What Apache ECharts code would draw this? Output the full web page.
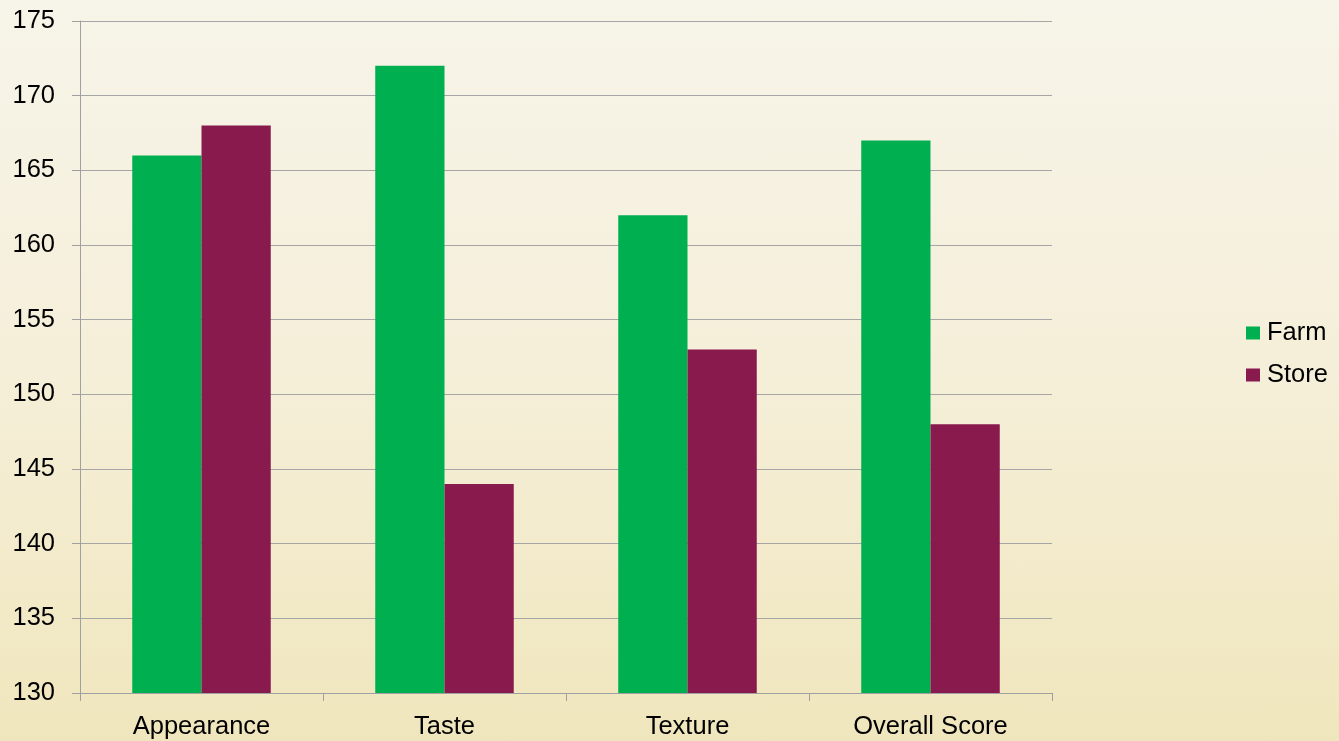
<!DOCTYPE html>
<html><head><meta charset="utf-8">
<script src="https://cdn.jsdelivr.net/npm/echarts@6/dist/echarts.min.js"></script>
<style>html,body{margin:0;padding:0;}#c{width:1339px;height:741px;background:linear-gradient(to bottom,#f7f4e9 0%,#f5efd9 50%,#f0e6bd 100%);}</style>
</head><body><div id="c"></div>
<script>
const categories = ['Appearance', 'Taste', 'Texture', 'Overall Score'];
const farm = [166, 172, 162, 167];
const store = [168, 144, 153, 148];
const yTicks = [130, 135, 140, 145, 150, 155, 160, 165, 170, 175];

const chart = echarts.init(document.getElementById('c'), null, {renderer: 'canvas'});
const font = 'Liberation Sans, Arial, sans-serif';
chart.setOption({
  backgroundColor: 'transparent',
  animation: false,
  grid: {left: 80, right: 287, top: 21, bottom: 48, containLabel: false},
  legend: {
    orient: 'vertical', left: 1241, top: 315, itemWidth: 14, itemHeight: 13, itemGap: 16,
    icon: 'rect',
    textStyle: {fontFamily: font, fontSize: 25.5, color: '#000', padding: [0, 0, 0, 2]},
    data: ['Farm', 'Store']
  },
  xAxis: {
    type: 'category', data: categories,
    axisLine: {lineStyle: {color: '#a0a0a0', width: 1}},
    axisTick: {show: true, length: 8, lineStyle: {color: '#a0a0a0'}},
    axisLabel: {fontFamily: font, fontSize: 25.5, color: '#000', margin: 21}
  },
  yAxis: {
    type: 'value', min: yTicks[0], max: yTicks[yTicks.length - 1], interval: 5,
    axisLine: {show: true, lineStyle: {color: '#a0a0a0', width: 1}},
    axisTick: {show: true, length: 8, lineStyle: {color: '#a0a0a0'}},
    axisLabel: {fontFamily: font, fontSize: 25.5, color: '#000', margin: 25},
    splitLine: {lineStyle: {color: '#a6a6a6', width: 1}}
  },
  series: [
    {name: 'Farm', type: 'bar', data: farm, barGap: '0%', barCategoryGap: '43%',
     itemStyle: {color: '#00b050'}},
    {name: 'Store', type: 'bar', data: store, barGap: '0%', barCategoryGap: '43%',
     itemStyle: {color: '#881a4e'}}
  ]
});
</script></body></html>
